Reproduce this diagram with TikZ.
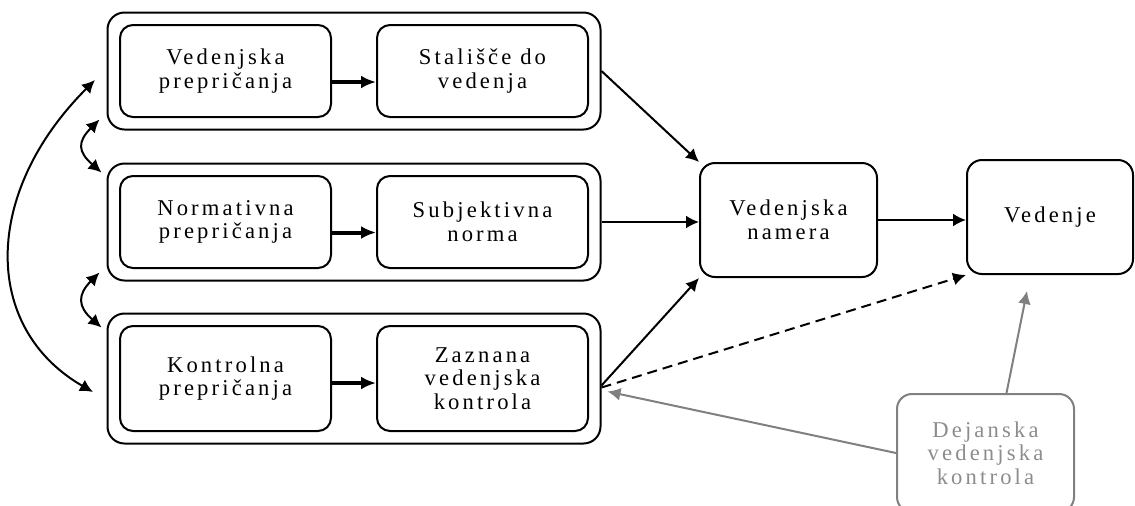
\documentclass[tikz,border=0pt]{standalone}
\usepackage{fontspec}
\setmainfont{Liberation Serif}
\newfontfamily\boxfont[LetterSpace=14]{Liberation Serif}
\usetikzlibrary{arrows.meta,positioning,calc,fit}

\begin{document}
\begin{tikzpicture}
[x=0.5pt,y=-0.5pt,node distance=22pt,
mynode/.style={shape=rectangle,draw=black,line width=1pt,rounded corners=6.5pt,
  minimum width=105.5pt,minimum height=46pt,align=center,
  font=\boxfont\fontsize{11.3}{11.8}\selectfont},
grpnode/.style={shape=rectangle,draw=black,line width=1pt,rounded corners=8.5pt,
  inner xsep=5.75pt,inner ysep=5.75pt},
bignode/.style={mynode,rounded corners=7.5pt,minimum width=88.5pt,minimum height=57pt},
realnode/.style={bignode,draw=black!50,text=black!45,minimum height=59pt},
myedge/.style={-{Latex[length=6.5pt,width=6.5pt]},line width=1pt},
thkedge/.style={-{Latex[length=7.5pt,width=6.5pt]},line width=2pt},
dbledge/.style={{Latex[length=6.5pt,width=6.5pt]}-{Latex[length=6.5pt,width=6.5pt]},line width=1pt},
realedge/.style={myedge,draw=black!50,line width=1pt}]
\useasboundingbox (0,0) rectangle (1135,505);
%%%%%%%%%%
%%%%% beliefs and their components
\node (vp) [mynode] at (225.5,71) {Vedenjska\\prepričanja};
\node (sv) [mynode,right=of vp] {Stališče do\\vedenja};
\node (np) [mynode,below=28.5pt of vp] {Normativna\\prepričanja};
\node (sn) [mynode,right=of np] {Subjektivna\\norma};
\node (kp) [mynode,below=28pt of np,minimum height=52.5pt] {Kontrolna\\prepričanja};
\node (zk) [mynode,right=of kp,minimum height=52.5pt] {Zaznana\\vedenjska\\kontrola};
%% groups
\node (g1) [grpnode,fit=(vp)(sv)] {};
\node (g2) [grpnode,fit=(np)(sn)] {};
\node (g3) [grpnode,fit=(kp)(zk)] {};
%%%%% intention, behaviour
\node (vn) [bignode] at (788.5,220) {Vedenjska\\namera};
\node (ve) [bignode,minimum width=83pt] at (1050,217) {Vedenje};
\node (dk) [realnode] at (985.5,453) {Dejanska\\vedenjska\\kontrola};
%% edges
\draw[thkedge] ($(vp.east)+(0,11)$) -- ($(vp.east -| sv.west)+(0,11)$);
\draw[thkedge] ($(np.east)+(0,10.5)$) -- ($(np.east -| sn.west)+(0,10.5)$);
\draw[thkedge] ($(kp.east)+(0,4.5)$) -- ($(kp.east -| zk.west)+(0,4.5)$);
\draw[myedge] (g1.east) -- (vn.north west);
\draw[myedge] (g2.east) -- (g2.east -| vn.west);
\draw[myedge] ($(g3.east)+(0,7)$) -- (vn.south west);
\draw[myedge,dashed,dash pattern=on 5pt off 3pt] ($(g3.east)+(0,9)$) -- (ve.south west);
\draw[myedge] (vn.east) -- (vn.east -| ve.west);
\draw[realedge] (dk.west) -- ($(g3.east)+(6,13)$);
\draw[realedge] ($(dk.north)+(21,0)$) -- ($(ve.south)+(-23,16)$);
%% correlations
\draw[dbledge] ($(g1.west)+(-11.5,9)$) .. controls +(-113,113) and +(-111,-64) .. ($(g3.west)+(-13.5,13.5)$);
\draw[dbledge] ($(g1.south west)+(-7,-11)$) .. controls +(-22,22) and +(-24,-21) .. ($(g2.north west)+(-5,10)$);
\draw[dbledge] ($(g2.south west)+(-7,-9)$) .. controls +(-22,22) and +(-24,-21) .. ($(g3.north west)+(-5,15)$);
%%
\end{tikzpicture}
\end{document}
